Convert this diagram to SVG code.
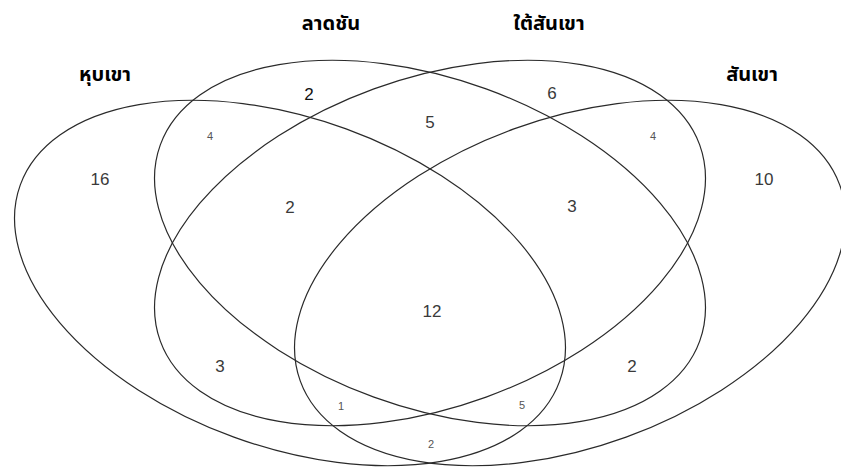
<svg xmlns="http://www.w3.org/2000/svg" width="841" height="470" viewBox="0 0 841 470">
<style>
.set{fill:none;stroke:#2a2a2a;stroke-width:1.2}
.lbl{font-family:"Noto Sans Thai","Tahoma","Noto Sans","DejaVu Sans",sans-serif;font-size:20px;font-weight:bold;fill:#000;text-anchor:middle}
.n{font-family:"Liberation Sans",Arial,sans-serif;font-size:17px;fill:#3a3a3a;text-anchor:middle}
.s{font-family:"Liberation Sans",Arial,sans-serif;font-size:11px;fill:#555;text-anchor:middle}
</style>
<rect width="841" height="470" fill="#fff"/>
<g id="connectors"></g>
<g id="set-hubkhao">
<ellipse class="set" cx="290" cy="283" rx="287" ry="164" transform="rotate(20 290 283)"/>
<text class="lbl" x="105" y="81">หุบเขา</text>
</g>
<g id="set-latchan">
<ellipse class="set" cx="430" cy="243" rx="287" ry="164" transform="rotate(20 430 243)"/>
<text class="lbl" x="331" y="30">ลาดชัน</text>
</g>
<g id="set-taisankhao">
<ellipse class="set" cx="430" cy="243" rx="287" ry="164" transform="rotate(-20 430 243)"/>
<text class="lbl" x="549" y="30">ใต้สันเขา</text>
</g>
<g id="set-sankhao">
<ellipse class="set" cx="570" cy="283" rx="287" ry="164" transform="rotate(-20 570 283)"/>
<text class="lbl" x="752" y="81">สันเขา</text>
</g>
<g id="counts">
<text class="n" x="100" y="185">16</text>
<text class="n" x="309" y="100" style="fill:#111">2</text>
<text class="s" x="210" y="140">4</text>
<text class="n" x="290" y="213">2</text>
<text class="n" x="430" y="128">5</text>
<text class="n" x="552" y="99">6</text>
<text class="s" x="653" y="140">4</text>
<text class="n" x="764" y="185">10</text>
<text class="n" x="572" y="212">3</text>
<text class="n" x="432" y="317">12</text>
<text class="n" x="220" y="372">3</text>
<text class="n" x="632" y="372">2</text>
<text class="s" x="341" y="410">1</text>
<text class="s" x="522" y="409">5</text>
<text class="s" x="431" y="448">2</text>
</g>
</svg>
